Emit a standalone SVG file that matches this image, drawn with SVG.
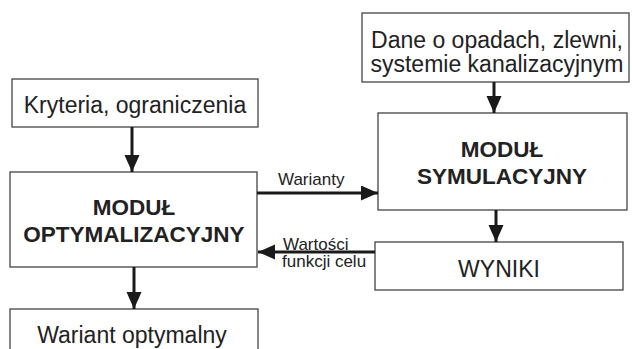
<svg xmlns="http://www.w3.org/2000/svg" width="632" height="349" viewBox="0 0 632 349">
<style>
.box{fill:#fff;stroke:#444;stroke-width:1.3}
.t{font-family:"Liberation Sans",Arial,sans-serif;font-size:23px;fill:#222;text-anchor:middle}
.b{font-family:"Liberation Sans",Arial,sans-serif;font-size:22.5px;font-weight:bold;fill:#222;text-anchor:middle}
.s{font-family:"Liberation Sans",Arial,sans-serif;font-size:17px;fill:#222}
.a{stroke:#1a1a1a;stroke-width:3;fill:none}
</style>
<defs>
<marker id="ah" markerUnits="userSpaceOnUse" markerWidth="18" markerHeight="16" refX="17" refY="7.5" orient="auto">
<path d="M0,0 L17,7.5 L0,15 Z" fill="#1a1a1a"/>
</marker>
</defs>
<rect width="632" height="349" fill="#fff"/>
<g id="kryteria">
<rect class="box" x="12" y="79" width="246" height="48"/>
<text class="t" x="135" y="113">Kryteria, ograniczenia</text>
</g>
<g id="dane">
<rect class="box" x="362" y="13" width="267" height="69"/>
<text class="t" x="497" y="48">Dane o opadach, zlewni,</text>
<text class="t" x="497" y="72">systemie kanalizacyjnym</text>
</g>
<g id="optymalizacyjny">
<rect class="box" x="10" y="172" width="247" height="95"/>
<text class="b" x="134" y="215">MODUŁ</text>
<text class="b" x="134" y="242">OPTYMALIZACYJNY</text>
</g>
<g id="symulacyjny">
<rect class="box" x="378" y="113" width="249" height="97"/>
<text class="b" x="502" y="157">MODUŁ</text>
<text class="b" x="502" y="184">SYMULACYJNY</text>
</g>
<g id="wyniki">
<rect class="box" x="375" y="242" width="248" height="48"/>
<text class="t" x="499" y="277">WYNIKI</text>
</g>
<g id="wariant">
<rect class="box" x="10" y="309" width="248" height="50"/>
<text class="t" x="132" y="343">Wariant optymalny</text>
</g>
<g id="connectors">
<line class="a" x1="132" y1="127" x2="132" y2="172" marker-end="url(#ah)"/>
<line class="a" x1="494" y1="82" x2="494" y2="113" marker-end="url(#ah)"/>
<line class="a" x1="496" y1="210" x2="496" y2="242" marker-end="url(#ah)"/>
<line class="a" x1="134" y1="267" x2="134" y2="309" marker-end="url(#ah)"/>
<line class="a" x1="257" y1="193" x2="378" y2="193" marker-end="url(#ah)"/>
<line class="a" x1="375" y1="252" x2="258" y2="252" marker-end="url(#ah)"/>
<text class="s" x="278" y="185">Warianty</text>
<text class="s" x="283" y="250">Wartości</text>
<text class="s" x="282" y="267">funkcji celu</text>
</g>
</svg>
